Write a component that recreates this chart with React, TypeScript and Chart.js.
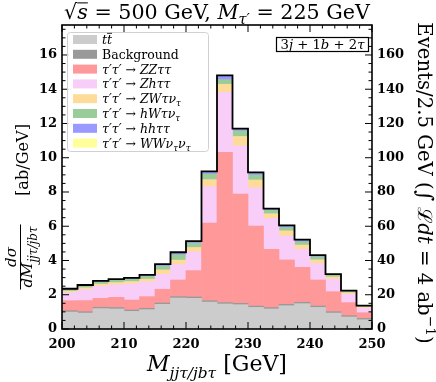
import React, { useEffect, useRef } from "react";
import { Chart, registerables } from "chart.js";

Chart.register(...registerables);

// ---------------- data ----------------
const binLow = [200, 202.5, 205, 207.5, 210, 212.5, 215, 217.5, 220, 222.5, 225, 227.5, 230, 232.5, 235, 237.5, 240, 242.5, 245, 247.5];
const binWidth = 2.5;

const ttbar = [0.99, 0.93, 1.19, 1.17, 1.03, 1.13, 1.44, 1.81, 1.79, 1.57, 1.46, 1.42, 1.26, 1.17, 1.36, 1.48, 1.26, 0.93, 0.70, 0.54];
const background = [0.08, 0.08, 0.08, 0.08, 0.08, 0.08, 0.08, 0.08, 0.08, 0.08, 0.08, 0.08, 0.08, 0.08, 0.08, 0.08, 0.08, 0.08, 0.08, 0.08];
const zzTauTau = [0.58, 0.65, 0.52, 0.60, 0.58, 0.68, 0.80, 0.97, 1.54, 4.54, 8.78, 6.38, 4.67, 3.40, 2.59, 2.04, 1.52, 1.17, 0.76, 0.33];
const zhTauTau = [0.47, 0.64, 0.71, 0.73, 0.94, 0.86, 0.88, 0.90, 1.10, 2.12, 3.50, 2.81, 2.24, 1.81, 1.40, 1.05, 0.96, 0.73, 0.49, 0.27];
const zwTauNu = [0.09, 0.11, 0.12, 0.13, 0.14, 0.16, 0.25, 0.26, 0.25, 0.41, 0.47, 0.55, 0.45, 0.27, 0.30, 0.25, 0.22, 0.13, 0.09, 0.06];
const hwTauNu = [0.08, 0.10, 0.12, 0.13, 0.14, 0.16, 0.22, 0.32, 0.25, 0.33, 0.27, 0.33, 0.30, 0.20, 0.20, 0.20, 0.17, 0.10, 0.07, 0.05];
const hhTauTau = [0.05, 0.05, 0.06, 0.06, 0.07, 0.08, 0.10, 0.12, 0.10, 0.13, 0.22, 0.11, 0.13, 0.08, 0.10, 0.10, 0.08, 0.05, 0.04, 0.02];
const wwNuNu = [0.01, 0.01, 0.01, 0.01, 0.01, 0.01, 0.02, 0.02, 0.02, 0.02, 0.03, 0.02, 0.02, 0.02, 0.02, 0.02, 0.02, 0.01, 0.01, 0.01];

const xTicks = [200, 210, 220, 230, 240, 250];
const yTicks = [0, 2, 4, 6, 8, 10, 12, 14, 16];
const y2Ticks = [0, 20, 40, 60, 80, 100, 120, 140, 160];

const xRange = [200, 250];
const yMax = 17.75;
const eventsPerUnit = 10; // 4 ab^-1 * 2.5 GeV

// ---------------- text helpers ----------------
type Seg = { t: string; it?: boolean; bf?: boolean; sc?: number; dy?: number; ov?: number };
const SERIF = '"DejaVu Serif", serif';

function fontOf(s: Seg, size: number) {
  return `${s.it ? "italic " : ""}${s.bf ? "bold " : ""}${(size * (s.sc ?? 1)).toFixed(2)}px ${SERIF}`;
}
function richWidth(ctx: CanvasRenderingContext2D, segs: Seg[], size: number) {
  let w = 0;
  for (const s of segs) {
    ctx.font = fontOf(s, size);
    w += ctx.measureText(s.t).width;
  }
  return w;
}
function drawRich(ctx: CanvasRenderingContext2D, segs: Seg[], x: number, y: number, size: number, align: string) {
  const w = richWidth(ctx, segs, size);
  let cx = align === "center" ? x - w / 2 : align === "right" ? x - w : x;
  ctx.textAlign = "left";
  ctx.textBaseline = "alphabetic";
  for (const s of segs) {
    ctx.font = fontOf(s, size);
    const sw = ctx.measureText(s.t).width;
    const by = y + (s.dy ?? 0) * size;
    ctx.fillText(s.t, cx, by);
    if (s.ov) {
      ctx.beginPath();
      ctx.lineWidth = Math.max(0.8, size * 0.05);
      ctx.moveTo(cx, by - s.ov * size);
      ctx.lineTo(cx + sw, by - s.ov * size);
      ctx.stroke();
    }
    cx += sw;
  }
  return w;
}
function fitSize(ctx: CanvasRenderingContext2D, segs: Seg[], target: number) {
  return (20 * target) / richWidth(ctx, segs, 20);
}
function drawRot(ctx: CanvasRenderingContext2D, segs: Seg[], sx: number, sy: number, size: number, angle: number, align: string) {
  ctx.save();
  ctx.translate(sx, sy);
  ctx.rotate(angle);
  const w = drawRich(ctx, segs, 0, 0, size, align);
  ctx.restore();
  return w;
}

const tauSub: Seg = { t: "τ", it: true, sc: 0.7, dy: 0.25 };

const legendItems: { color: string; segs: Seg[] }[] = [
  { color: "#cccccc", segs: [{ t: "t", it: true }, { t: "t", it: true, ov: 0.85 }] },
  { color: "#999999", segs: [{ t: "Background" }] },
  { color: "#ff9999", segs: [{ t: "τ′τ′", it: true }, { t: " → " }, { t: "ZZττ", it: true }] },
  { color: "#f8cdf8", segs: [{ t: "τ′τ′", it: true }, { t: " → " }, { t: "Zhττ", it: true }] },
  { color: "#ffdb99", segs: [{ t: "τ′τ′", it: true }, { t: " → " }, { t: "ZWτν", it: true }, tauSub] },
  { color: "#99cc99", segs: [{ t: "τ′τ′", it: true }, { t: " → " }, { t: "hWτν", it: true }, tauSub] },
  { color: "#9999ff", segs: [{ t: "τ′τ′", it: true }, { t: " → " }, { t: "hhττ", it: true }] },
  { color: "#ffff99", segs: [{ t: "τ′τ′", it: true }, { t: " → " }, { t: "WWν", it: true }, tauSub, { t: "ν", it: true }, tauSub] },
];

const series = [ttbar, background, zzTauTau, zhTauTau, zwTauNu, hwTauNu, hhTauTau, wwNuNu];
const seriesNames = ["ttbar", "Background", "ZZtautau", "Zhtautau", "ZWtaunu", "hWtaunu", "hhtautau", "WWnunu"];

const overlay = {
  id: "overlay",
  afterDraw(chart: any) {
    const ctx: CanvasRenderingContext2D = chart.ctx;
    const a = chart.chartArea;
    const xs = chart.scales.xv;
    const ys = chart.scales.y;
    const y2 = chart.scales.y2;
    ctx.save();
    ctx.fillStyle = "#000";
    ctx.strokeStyle = "#000";

    const line = (x1: number, y1: number, x2: number, y2_: number) => {
      ctx.beginPath();
      ctx.moveTo(x1, y1);
      ctx.lineTo(x2, y2_);
      ctx.stroke();
    };

    // ticks (inward, all sides)
    ctx.lineWidth = 1;
    for (let v = xRange[0]; v <= xRange[1] + 1e-6; v += 2) {
      const px = xs.getPixelForValue(v);
      const L = xTicks.includes(v) ? 7 : 3.5;
      line(px, a.bottom, px, a.bottom - L);
      line(px, a.top, px, a.top + L);
    }
    for (let v = 0; v <= yMax + 1e-6; v += 0.5) {
      const py = ys.getPixelForValue(v);
      const L = yTicks.includes(v) ? 7 : 3.5;
      line(a.left, py, a.left + L, py);
    }
    for (let v = 0; v <= yMax * eventsPerUnit + 1e-6; v += 5) {
      const py = y2.getPixelForValue(v);
      const L = y2Ticks.includes(v) ? 7 : 3.5;
      line(a.right, py, a.right - L, py);
    }
    // frame
    ctx.lineWidth = 1.6;
    ctx.strokeRect(a.left, a.top, a.right - a.left, a.bottom - a.top);

    // tick labels
    ctx.font = `bold 13px ${SERIF}`;
    ctx.textAlign = "center";
    ctx.textBaseline = "alphabetic";
    for (const v of xTicks) ctx.fillText(String(v), xs.getPixelForValue(v), a.bottom + 19);
    ctx.textAlign = "right";
    ctx.textBaseline = "middle";
    for (const v of yTicks) ctx.fillText(String(v), a.left - 5, ys.getPixelForValue(v));
    ctx.textAlign = "left";
    for (const v of y2Ticks) ctx.fillText(String(v), a.right + 5, y2.getPixelForValue(v));

    // title
    const title: Seg[] = [
      { t: "√" },
      { t: "s", it: true, ov: 0.78 },
      { t: " = 500 GeV, " },
      { t: "M", it: true },
      { t: "τ′", it: true, sc: 0.7, dy: 0.25 },
      { t: " = 225 GeV" },
    ];
    const tSize = fitSize(ctx, title, 306);
    drawRich(ctx, title, (a.left + a.right) / 2, 19, tSize, "center");

    // x label
    const xl: Seg[] = [{ t: "M", it: true }, { t: "jjτ/jbτ", it: true, sc: 0.7, dy: 0.3 }, { t: " [GeV]" }];
    drawRich(ctx, xl, (a.left + a.right) / 2, 371, fitSize(ctx, xl, 140), "center");

    // left y label: fraction + units
    const num: Seg[] = [{ t: "dσ", it: true }];
    const den: Seg[] = [{ t: "dM", it: true }, { t: "jjτ/jbτ", it: true, sc: 0.8, dy: 0.3 }];
    const fy = 257;
    const denW = drawRot(ctx, den, 32, fy, 15, -Math.PI / 2, "center");
    drawRot(ctx, num, 16, fy, 15, -Math.PI / 2, "center");
    ctx.lineWidth = 1;
    line(20.5, fy - denW / 2 - 2, 20.5, fy + denW / 2 + 2);
    const unit: Seg[] = [{ t: "[ab/GeV]" }];
    drawRot(ctx, unit, 28, 160, fitSize(ctx, unit, 72), -Math.PI / 2, "center");

    // right y label
    const rl: Seg[] = [
      { t: "Events/2.5 GeV (" },
      { t: "∫", sc: 1.1 },
      { t: " ℒ" },
      { t: "dt", it: true },
      { t: " = 4 ab" },
      { t: "−1", sc: 0.7, dy: -0.4 },
      { t: ")" },
    ];
    drawRot(ctx, rl, 418, 183, fitSize(ctx, rl, 322), Math.PI / 2, "center");

    // legend
    const lx = 67, ly = 32, lw = 141, lh = 119;
    ctx.fillStyle = "rgba(255,255,255,0.8)";
    ctx.strokeStyle = "#d0d0d0";
    ctx.lineWidth = 1;
    ctx.beginPath();
    (ctx as any).roundRect(lx + 0.5, ly + 0.5, lw, lh, 3);
    ctx.fill();
    ctx.stroke();
    legendItems.forEach((it, i) => {
      const cy = 39.5 + i * 14.8;
      ctx.fillStyle = it.color;
      ctx.fillRect(73, cy - 4.5, 24, 9);
      ctx.fillStyle = "#000";
      ctx.strokeStyle = "#000";
      drawRich(ctx, it.segs, 102, cy + 4.5, 12.5, "left");
    });

    // channel box
    ctx.strokeStyle = "#000";
    ctx.lineWidth = 1.2;
    ctx.strokeRect(276.5, 37.5, 92, 14);
    const ch: Seg[] = [{ t: "3" }, { t: "j", it: true }, { t: " + 1" }, { t: "b", it: true }, { t: " + 2" }, { t: "τ", it: true }];
    ctx.fillStyle = "#000";
    drawRich(ctx, ch, 322.5, 48.5, fitSize(ctx, ch, 84), "center");

    ctx.restore();
  },
};

export default function App() {
  const ref = useRef<HTMLCanvasElement | null>(null);
  useEffect(() => {
    if (!ref.current) return;
    const totals = binLow.map((_, i) => series.reduce((s, arr) => s + arr[i], 0));
    // bin edges with the total of the bin that starts there; last edge repeats the last bin
    const outline = binLow.map((x, i) => ({ x, y: totals[i] }));
    outline.push({ x: binLow[binLow.length - 1] + binWidth, y: totals[totals.length - 1] });

    const datasets: any[] = series.map((vals, i) => ({
      label: seriesNames[i],
      data: vals.map((v, j) => ({ x: binLow[j] + binWidth / 2, y: v })),
      backgroundColor: legendItems[i].color,
      borderWidth: 0,
      barPercentage: 1,
      categoryPercentage: 1,
      xAxisID: "xv",
      yAxisID: "y",
      stack: "all",
      order: 2,
    }));
    datasets.push({
      type: "line",
      label: "total",
      data: outline,
      xAxisID: "xv",
      yAxisID: "y",
      stepped: "before",
      borderColor: "#000",
      borderWidth: 1.8,
      pointRadius: 0,
      fill: false,
      stack: "outline",
      order: 0,
    });

    const chart = new Chart(ref.current, {
      type: "bar",
      data: { datasets },
      options: {
        animation: false,
        responsive: false,
        maintainAspectRatio: false,
        layout: { padding: { left: 62, right: 64, top: 25, bottom: 53 } },
        plugins: { legend: { display: false }, tooltip: { enabled: false } },
        scales: {
          xv: { type: "linear", display: false, offset: false, stacked: true, min: xRange[0], max: xRange[1], grid: { offset: false } },
          y: { type: "linear", display: false, stacked: true, min: 0, max: yMax },
          y2: { type: "linear", display: false, position: "right", min: 0, max: yMax * eventsPerUnit },
        },
      } as any,
      plugins: [overlay],
    });
    return () => chart.destroy();
  }, []);

  return (
    <div style={{ position: "fixed", left: 0, top: 0, width: 436, height: 382, background: "#fff" }}>
      <canvas ref={ref} width={436} height={382} style={{ display: "block", width: 436, height: 382 }} />
    </div>
  );
}
